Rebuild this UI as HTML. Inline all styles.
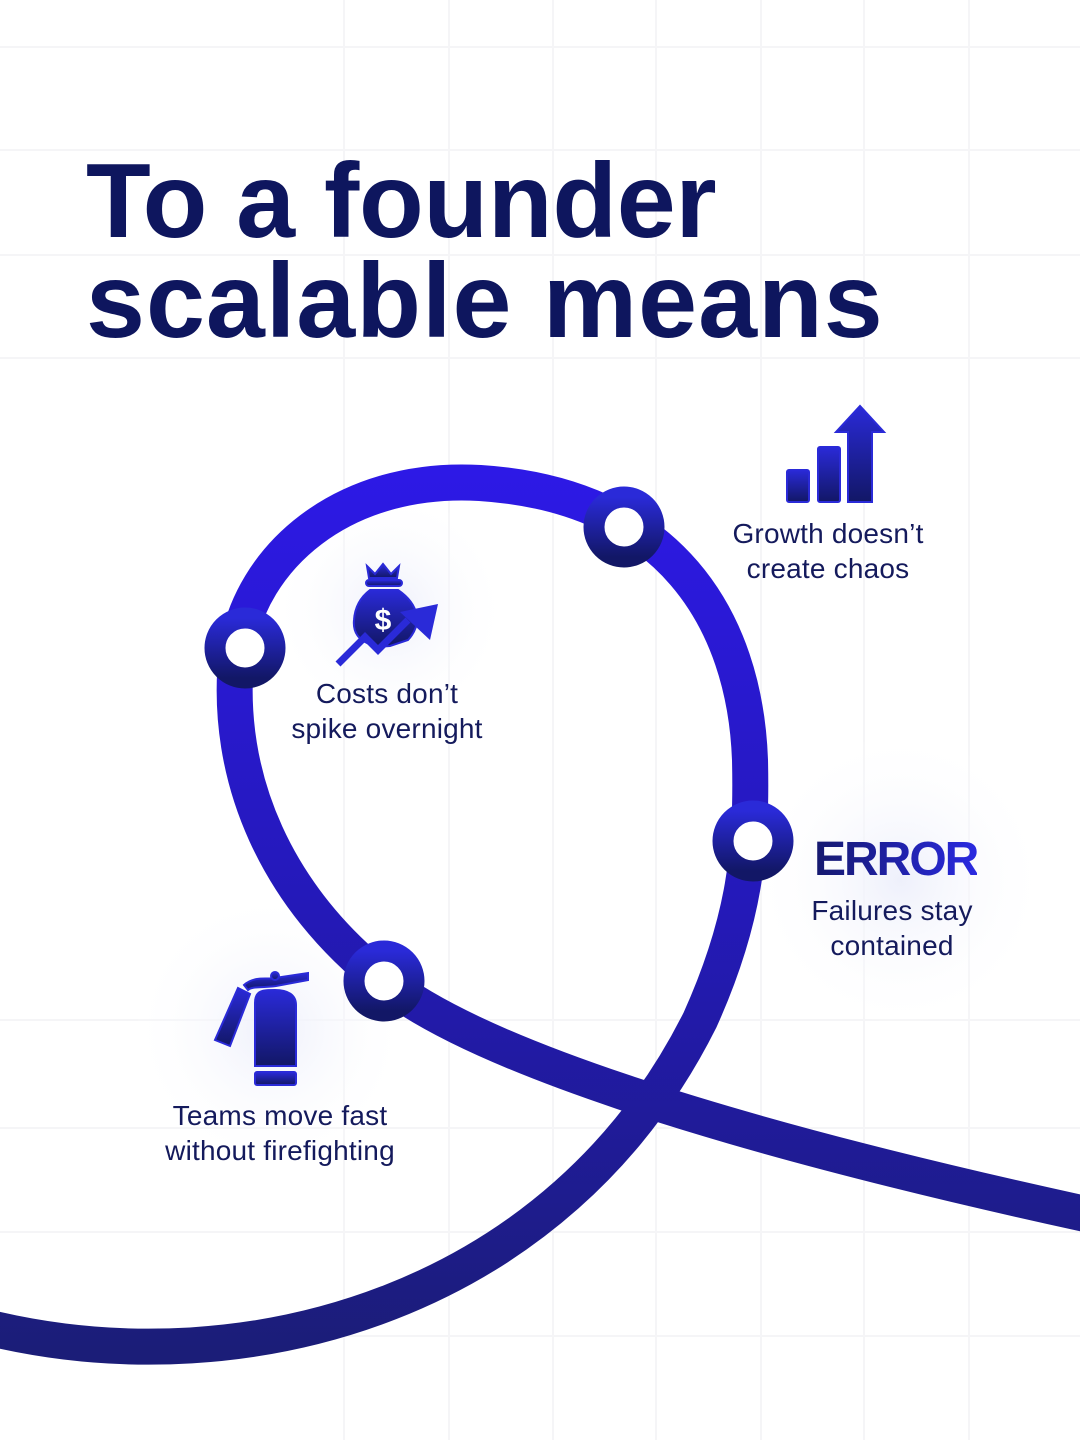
<!DOCTYPE html>
<html><head><meta charset="utf-8"><style>
html,body{margin:0;padding:0;background:#fff}
body{width:1080px;height:1440px;position:relative;overflow:hidden;font-family:"Liberation Sans",sans-serif}
.t{position:absolute;font-weight:bold;color:#0e165e;font-size:106px;left:86px;letter-spacing:-0.3px;line-height:1}
.l{position:absolute;color:#141a5c;font-size:28px;text-align:center;line-height:35px;letter-spacing:0.2px;width:360px}
</style></head><body>
<svg width="1080" height="1440" style="position:absolute;left:0;top:0">
<defs>
<linearGradient id="g" gradientUnits="userSpaceOnUse" x1="0" y1="470" x2="0" y2="1350">
<stop offset="0" stop-color="#2d19e6"/><stop offset="0.5" stop-color="#2419b8"/><stop offset="1" stop-color="#1b1d78"/></linearGradient>
<linearGradient id="ig" x1="0" y1="0" x2="0" y2="1"><stop offset="0" stop-color="#2a2ad8"/><stop offset="1" stop-color="#121766"/></linearGradient>
<radialGradient id="glow"><stop offset="0" stop-color="#eef0fb"/><stop offset="1" stop-color="#fff" stop-opacity="0"/></radialGradient>
</defs>
<g stroke="#f5f5f7" stroke-width="2">
<line x1="0" y1="47" x2="1080" y2="47"/><line x1="0" y1="150" x2="1080" y2="150"/><line x1="0" y1="255" x2="1080" y2="255"/><line x1="0" y1="358" x2="1080" y2="358"/>
<line x1="344" y1="0" x2="344" y2="1440"/><line x1="449" y1="0" x2="449" y2="1440"/><line x1="553" y1="0" x2="553" y2="1440"/><line x1="656" y1="0" x2="656" y2="1440"/><line x1="761" y1="0" x2="761" y2="1440"/><line x1="864" y1="0" x2="864" y2="1440"/><line x1="969" y1="0" x2="969" y2="1440"/>
<line x1="0" y1="1020" x2="1080" y2="1020"/><line x1="0" y1="1128" x2="1080" y2="1128"/><line x1="0" y1="1232" x2="1080" y2="1232"/><line x1="0" y1="1336" x2="1080" y2="1336"/>
</g>
<circle cx="270" cy="1030" r="140" fill="url(#glow)"/>
<circle cx="900" cy="880" r="150" fill="url(#glow)"/>
<circle cx="390" cy="610" r="120" fill="url(#glow)"/>
<path d="M -10 1328 C 250 1390, 560 1300, 700 1020 C 745 920, 752 850, 750 760 C 745 620, 670 495, 480 483 C 340 475, 250 560, 237 650 C 222 780, 280 900, 384 981 C 470 1050, 700 1130, 1090 1215" fill="none" stroke="url(#g)" stroke-width="36"/>
<g fill="#fff" stroke="url(#ig)" stroke-width="21">
<circle cx="624" cy="527" r="30"/><circle cx="245" cy="648" r="30"/><circle cx="753" cy="841" r="30"/><circle cx="384" cy="981" r="30"/>
</g>
<g fill="url(#ig)" stroke="#2a2ad8" stroke-width="2">
<rect x="787" y="470" width="22" height="32" rx="2"/><rect x="818" y="447" width="22" height="55" rx="2"/>
<path d="M848 502 V432 H836 L860 406 L884 432 H872 V502 Z"/>
</g>
<g fill="url(#ig)" stroke="#2a2ad8" stroke-width="2">
<path d="M367 566 L375 574 L383 564 L391 574 L399 566 L397 578 H369 Z"/>
<rect x="366" y="580" width="36" height="6" rx="3"/>
<path d="M370 590 H398 C420 605 422 625 408 640 L390 646 C370 648 352 640 354 620 C355 605 362 596 370 590 Z"/>
</g>
<text x="383" y="630" font-size="30" font-family="Liberation Sans" font-weight="bold" fill="#fff" text-anchor="middle">$</text>
<path d="M338 664 L365 637 L378 650 L408 620" fill="none" stroke="#2a2ad8" stroke-width="7"/>
<path d="M400 612 L438 604 L430 640 Z" fill="#2a2ad8"/>
<g fill="url(#ig)" stroke="#2a2ad8" stroke-width="2">
<path d="M255 1003 C255 990 263 990 275 990 C288 990 296 995 296 1005 V1066 H255 Z"/>
<rect x="255" y="1072" width="41" height="13" rx="2"/>
<path d="M238 988 L250 994 L230 1046 L215 1040 Z"/>
<path d="M244 985 C255 975 270 980 275 978 L308 973 L308 980 L276 986 C262 988 252 986 248 990 Z"/>
<circle cx="275" cy="976" r="4"/>
</g>
</svg>
<div class="t" style="top:148px">To a founder</div>
<div class="t" style="top:248px;letter-spacing:1px">scalable means</div>
<div class="l" style="left:648px;top:516px">Growth doesn’t<br>create chaos</div>
<div class="l" style="left:207px;top:676px">Costs don’t<br>spike overnight</div>
<div class="l" style="left:712px;top:893px">Failures stay<br>contained</div>
<div class="l" style="left:100px;top:1098px">Teams move fast<br>without firefighting</div>
<div style="position:absolute;left:814px;top:836px;font-size:48px;font-weight:900;letter-spacing:-2px;line-height:48px;background:linear-gradient(90deg,#15196e,#2a2ae0);-webkit-background-clip:text;background-clip:text;color:transparent">ERROR</div>
</body></html>
